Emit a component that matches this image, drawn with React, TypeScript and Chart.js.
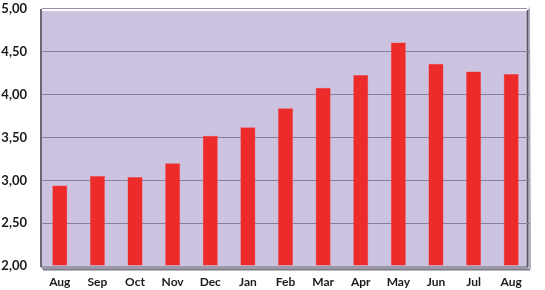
import React, { useEffect, useRef } from "react";
import { Chart, registerables } from "chart.js";

Chart.register(...registerables);

const months = ["Aug", "Sep", "Oct", "Nov", "Dec", "Jan", "Feb", "Mar", "Apr", "May", "Jun", "Jul", "Aug"];
const values = [2.94, 3.05, 3.04, 3.2, 3.52, 3.62, 3.84, 4.08, 4.23, 4.61, 4.36, 4.27, 4.24];
const yMin = 2;
const yMax = 5;
const yStep = 0.5;

const wallPlugin = {
  id: "wall",
  beforeDraw(chart: any) {
    const { ctx, chartArea } = chart;
    const { left, right, top, bottom } = chartArea;
    ctx.save();
    // back wall
    ctx.fillStyle = "#CCC3E0";
    ctx.fillRect(left + 1, top, right - left - 4, bottom - top);
    // floor
    ctx.fillStyle = "#9C98A8";
    ctx.beginPath();
    ctx.moveTo(left - 1, bottom);
    ctx.lineTo(right - 3, bottom);
    ctx.lineTo(right, bottom + 4);
    ctx.lineTo(left + 2, bottom + 4);
    ctx.closePath();
    ctx.fill();
    ctx.fillStyle = "#7E7A88";
    ctx.fillRect(left + 2, bottom + 3, right - left - 2, 1.5);
    // right side bevel
    ctx.fillStyle = "#B4AFC0";
    ctx.beginPath();
    ctx.moveTo(right - 3, top);
    ctx.lineTo(right, top - 3);
    ctx.lineTo(right + 1, bottom + 4);
    ctx.lineTo(right - 3, bottom);
    ctx.closePath();
    ctx.fill();
    ctx.strokeStyle = "#56525E";
    ctx.lineWidth = 1.5;
    ctx.beginPath();
    ctx.moveTo(right - 2.5, top);
    ctx.lineTo(right - 2.5, bottom + 1);
    ctx.stroke();
    // top highlight
    ctx.strokeStyle = "#FFFFFF";
    ctx.lineWidth = 2;
    ctx.beginPath();
    ctx.moveTo(left + 1, top + 1);
    ctx.lineTo(right - 4, top + 1);
    ctx.lineTo(right - 1, top - 2);
    ctx.stroke();
    ctx.strokeStyle = "#9890A8";
    ctx.lineWidth = 1;
    ctx.beginPath();
    ctx.moveTo(left + 1, top - 0.5);
    ctx.lineTo(right - 3, top - 0.5);
    ctx.stroke();
    // left wall edge
    ctx.strokeStyle = "#6A6672";
    ctx.lineWidth = 2;
    ctx.beginPath();
    ctx.moveTo(left, top);
    ctx.lineTo(left, bottom + 1);
    ctx.stroke();
    ctx.restore();
  },
};

export default function App() {
  const ref = useRef<HTMLCanvasElement>(null);
  useEffect(() => {
    if (!ref.current) return;
    const chart = new Chart(ref.current, {
      type: "bar",
      data: {
        labels: months,
        datasets: [
          {
            data: values,
            backgroundColor: "#EE2B2B",
            borderColor: "#F2504A",
            borderWidth: 0.5,
            categoryPercentage: 1,
            barPercentage: 0.4,
            base: yMin,
          },
        ],
      },
      options: {
        animation: false,
        responsive: false,
        maintainAspectRatio: false,
        layout: { padding: { top: 9, right: 15, left: 0, bottom: 0 } },
        plugins: { legend: { display: false }, tooltip: { enabled: false } },
        scales: {
          x: {
            grid: { display: false, drawTicks: false },
            border: { display: false },
            ticks: {
              padding: 9,
              color: "#1A1A1A",
              font: { family: "Lato", weight: "bold", size: 12 },
              maxRotation: 0,
              autoSkip: false,
            },
            afterFit(scale: any) {
              scale.height = 24;
              scale.paddingLeft = 0;
              scale.paddingRight = 0;
            },
          },
          y: {
            min: yMin,
            max: yMax,
            grid: {
              color: (c: any) => (c.tick && (c.tick.value === yMin || c.tick.value === yMax) ? "rgba(0,0,0,0)" : "#8A7E9C"),
              lineWidth: 1,
              drawTicks: false,
            },
            border: { display: false },
            ticks: {
              stepSize: yStep,
              padding: 14,
              color: "#1A1A1A",
              font: { family: "Lato", weight: "bold", size: 13 },
              callback: (v: any) => Number(v).toFixed(2).replace(".", ","),
            },
            afterFit(scale: any) {
              scale.width = 41;
              scale.paddingTop = 0;
              scale.paddingBottom = 0;
            },
          },
        },
      },
      plugins: [wallPlugin],
    });
    return () => chart.destroy();
  }, []);
  return (
    <div style={{ position: "fixed", left: 0, top: 0, width: 545, height: 290, background: "#FFFFFF" }}>
      <canvas ref={ref} width={545} height={290} style={{ width: 545, height: 290, display: "block" }} />
    </div>
  );
}
